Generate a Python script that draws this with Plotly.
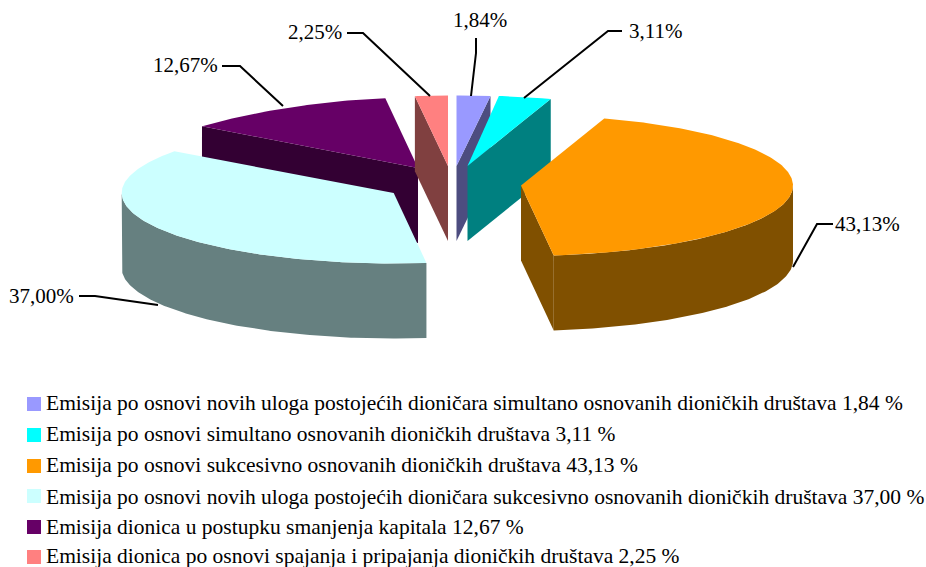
import math
import plotly.graph_objects as go

# ---- data ----
names = [
    "Emisija po osnovi novih uloga postojećih dioničara simultano osnovanih dioničkih društava",
    "Emisija po osnovi simultano osnovanih dioničkih društava",
    "Emisija po osnovi sukcesivno osnovanih dioničkih društava",
    "Emisija po osnovi novih uloga postojećih dioničara sukcesivno osnovanih dioničkih društava",
    "Emisija dionica u postupku smanjenja kapitala",
    "Emisija dionica po osnovi spajanja i pripajanja dioničkih društava",
]
values = [1.84, 3.11, 43.13, 37.00, 12.67, 2.25]

# ---- style and layout ----
top_colors = ["#9999FF", "#00FFFF", "#FF9900", "#CCFFFF", "#660066", "#FF8080"]
wall_colors = ["#4D4D80", "#008080", "#805000", "#668080", "#330033", "#804040"]
apex = [(456.5, 166), (467.5, 166), (521, 185.5), (393.7, 193), (418, 168), (448, 166)]
# horizontal radius at the leading and trailing edge of each slice
radius_x = [(295, 295), (272, 272), (272, 272), (272, 272), (268, 232), (235, 235)]
radius_y = 70.5
depth = 75
draw_order = [4, 3, 5, 0, 1, 2]
FONT = "Liberation Serif"
LABEL_SIZE = 21
LEGEND_SIZE = 21.5
label_pos = [(479.5, 19.5), (655, 30.5), (867.5, 223.5), (41.5, 295.5), (185, 64.5), (315, 31.5)]
leaders = [
    [(476, 38), (476, 53), (471, 96)],
    [(622, 31), (608, 31), (524, 98)],
    [(833, 224), (817, 224), (793, 267)],
    [(79, 296), (95, 296), (158, 305)],
    [(222, 66), (240, 66), (283, 106)],
    [(347, 33), (363, 33), (430, 96)],
]
legend_y = [404, 435, 466, 496, 527, 557]
legend_text_y = [403, 434, 464.5, 496.5, 526.5, 556]

# slice angles come from the values (clockwise from 12 o'clock)
angles = []
acc = 0.0
for v in values:
    a0 = acc / sum(values) * 2 * math.pi
    acc += v
    angles.append((a0, acc / sum(values) * 2 * math.pi))


def rim(i, a0, a1, dy=0.0):
    ax, ay = apex[i]
    s0, s1 = angles[i]
    r0, r1 = radius_x[i]
    n = max(2, int(abs(a1 - a0) * 90))
    pts = []
    for k in range(n + 1):
        t = a0 + (a1 - a0) * k / n
        rx = r0 + (r1 - r0) * (t - s0) / (s1 - s0)
        pts.append((ax + rx * math.sin(t), ay - radius_y * math.cos(t) + dy))
    return pts


def poly(fig, pts, color, name):
    xs = [p[0] for p in pts] + [pts[0][0]]
    ys = [p[1] for p in pts] + [pts[0][1]]
    fig.add_trace(go.Scatter(x=xs, y=ys, mode="lines", fill="toself", fillcolor=color,
                             line=dict(width=0, color=color), name=name,
                             hoverinfo="name", showlegend=False))


fig = go.Figure()

for i in draw_order:
    a0, a1 = angles[i]
    ax, ay = apex[i]
    # outer wall (front half of the rim)
    lo, hi = max(a0, math.pi / 2), min(a1, 3 * math.pi / 2)
    if hi > lo:
        arc = rim(i, lo, hi)
        arc_low = rim(i, lo, hi, depth)
        poly(fig, arc + arc_low[::-1], wall_colors[i], names[i])
    # radial cut walls that face the viewer
    if a0 > math.pi:  # left-hand slices show their leading cut
        p = rim(i, a0, a0)[0]
        poly(fig, [p, (ax, ay), (ax, ay + depth), (p[0], p[1] + depth)], wall_colors[i], names[i])
    if a1 < math.pi:  # right-hand slices show their trailing cut
        p = rim(i, a1, a1)[0]
        poly(fig, [p, (ax, ay), (ax, ay + depth), (p[0], p[1] + depth)], wall_colors[i], names[i])
    # top face
    poly(fig, [(ax, ay)] + rim(i, a0, a1), top_colors[i], names[i])

# leader lines
for pts in leaders:
    fig.add_trace(go.Scatter(x=[p[0] for p in pts], y=[p[1] for p in pts], mode="lines",
                             line=dict(color="black", width=2), hoverinfo="skip", showlegend=False))

# value labels
for v, (x, y) in zip(values, label_pos):
    fig.add_annotation(x=x, y=y, text=f"{v:.2f}".replace(".", ",") + "%", showarrow=False,
                       xanchor="center", yanchor="middle", borderpad=0,
                       font=dict(family=FONT, size=LABEL_SIZE, color="black"))

# legend
fig.add_trace(go.Scatter(x=[34] * len(names), y=legend_y, mode="markers",
                         marker=dict(symbol="square", size=14, color=top_colors, line=dict(width=0)),
                         hoverinfo="skip", showlegend=False))
for n, v, y in zip(names, values, legend_text_y):
    fig.add_annotation(x=45, y=y, text=f"{n} {v:.2f} %".replace(".", ","), showarrow=False,
                       xanchor="left", yanchor="middle", borderpad=0,
                       font=dict(family=FONT, size=LEGEND_SIZE, color="black"))

fig.update_layout(width=926, height=567, margin=dict(l=0, r=0, t=0, b=0),
                  paper_bgcolor="white", plot_bgcolor="white", showlegend=False,
                  xaxis=dict(range=[0, 926], visible=False, fixedrange=True),
                  yaxis=dict(range=[567, 0], visible=False, fixedrange=True))
fig.write_html("out.html", config={"displayModeBar": False},
               post_script="document.body.style.margin='0';document.body.style.overflow='hidden';")
